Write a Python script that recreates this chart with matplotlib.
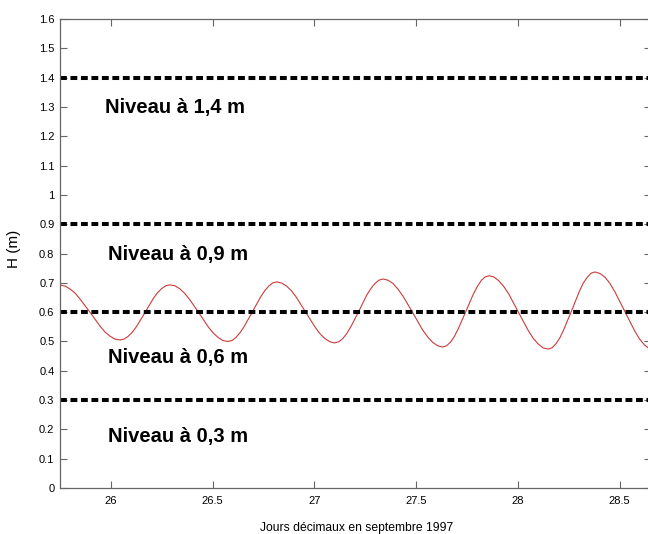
import matplotlib
matplotlib.use('Agg')
import matplotlib.pyplot as plt

plt.rcParams['font.family'] = ['Liberation Sans', 'DejaVu Sans']

# water level (decimal days, metres)
days = [25.750, 25.775, 25.799, 25.824, 25.848, 25.898, 25.947, 25.971, 25.996, 26.020,
        26.045, 26.065, 26.086, 26.106, 26.127, 26.168, 26.208, 26.229, 26.249, 26.270,
        26.290, 26.314, 26.338, 26.361, 26.385, 26.433, 26.480, 26.504, 26.528, 26.551,
        26.575, 26.595, 26.615, 26.635, 26.655, 26.696, 26.736, 26.756, 26.776, 26.796,
        26.816, 26.840, 26.863, 26.887, 26.911, 26.958, 27.005, 27.029, 27.053, 27.076,
        27.100, 27.120, 27.140, 27.159, 27.179, 27.219, 27.258, 27.278, 27.298, 27.317,
        27.337, 27.361, 27.386, 27.410, 27.435, 27.484, 27.532, 27.557, 27.581, 27.606,
        27.630, 27.649, 27.668, 27.687, 27.706, 27.744, 27.782, 27.801, 27.820, 27.839,
        27.858, 27.882, 27.906, 27.931, 27.955, 28.003, 28.051, 28.076, 28.100, 28.124,
        28.148, 28.167, 28.187, 28.206, 28.225, 28.264, 28.302, 28.321, 28.341, 28.360,
        28.379, 28.403, 28.428, 28.452, 28.476, 28.525, 28.573, 28.597, 28.622, 28.646,
        28.670]
height = [0.692, 0.689, 0.679, 0.665, 0.645, 0.599, 0.552, 0.532, 0.518, 0.508,
          0.505, 0.508, 0.518, 0.532, 0.552, 0.599, 0.646, 0.666, 0.680, 0.690,
          0.693, 0.690, 0.680, 0.665, 0.645, 0.597, 0.548, 0.528, 0.513, 0.503,
          0.500, 0.503, 0.514, 0.530, 0.551, 0.602, 0.652, 0.673, 0.689, 0.700,
          0.703, 0.699, 0.689, 0.673, 0.651, 0.599, 0.547, 0.525, 0.509, 0.499,
          0.495, 0.499, 0.510, 0.527, 0.550, 0.604, 0.659, 0.681, 0.698, 0.709,
          0.713, 0.709, 0.698, 0.679, 0.655, 0.597, 0.539, 0.515, 0.497, 0.485,
          0.481, 0.485, 0.497, 0.516, 0.542, 0.602, 0.663, 0.688, 0.708, 0.720,
          0.724, 0.720, 0.707, 0.687, 0.662, 0.599, 0.537, 0.510, 0.491, 0.478,
          0.474, 0.478, 0.492, 0.512, 0.540, 0.605, 0.671, 0.699, 0.719, 0.733,
          0.737, 0.732, 0.719, 0.698, 0.670, 0.603, 0.537, 0.509, 0.488, 0.475,
          0.470]

levels = [1.4, 0.9, 0.6, 0.3]
level_labels = ['Niveau à 1,4 m', 'Niveau à 0,9 m', 'Niveau à 0,6 m', 'Niveau à 0,3 m']
label_x = [25.971, 25.986, 25.986, 25.986]
label_y = [1.297, 0.795, 0.444, 0.177]

xticks = [26, 26.5, 27, 27.5, 28, 28.5]
xticklabels = ['26', '26.5', '27', '27.5', '28', '28.5']
yticks = [i / 10 for i in range(17)]
yticklabels = ['0', '0.1', '0.2', '0.3', '0.4', '0.5', '0.6', '0.7', '0.8',
               '0.9', '1', '1.1', '1.2', '1.3', '1.4', '1.5', '1.6']

fig = plt.figure(figsize=(6.48, 5.34), dpi=100)
ax = fig.add_axes([60 / 648, 1 - 488 / 534, 591 / 648, 469 / 534])

ax.plot(days, height, color='#cc3b3b', lw=0.8)
for lev in levels:
    ax.axhline(lev, color='black', lw=2.9, dashes=(1.7, 0.9))
for x, y, s in zip(label_x, label_y, level_labels):
    ax.text(x, y, s, fontsize=14.5, fontweight='bold', va='center', ha='left')

ax.set_xlim(25.75, 28.654)
ax.set_ylim(0, 1.6)
ax.set_xticks(xticks)
ax.set_xticklabels(xticklabels)
ax.set_yticks(yticks)
ax.set_yticklabels(yticklabels)
ax.tick_params(direction='in', top=True, right=True, length=5, width=0.8,
               color='#666666', labelsize=8)
ax.tick_params(axis='y', pad=4)
ax.tick_params(axis='x', pad=6)
for sp in ax.spines.values():
    sp.set_color('#666666')
    sp.set_linewidth(0.9)

ax.set_ylabel('H (m)', fontsize=11, va='center')
ax.yaxis.set_label_coords(-0.078, 0.51)
ax.set_xlabel('Jours décimaux en septembre 1997', fontsize=8.7)
ax.xaxis.set_label_coords(0.5025, -0.073)

fig.savefig('out.png', dpi=100)
